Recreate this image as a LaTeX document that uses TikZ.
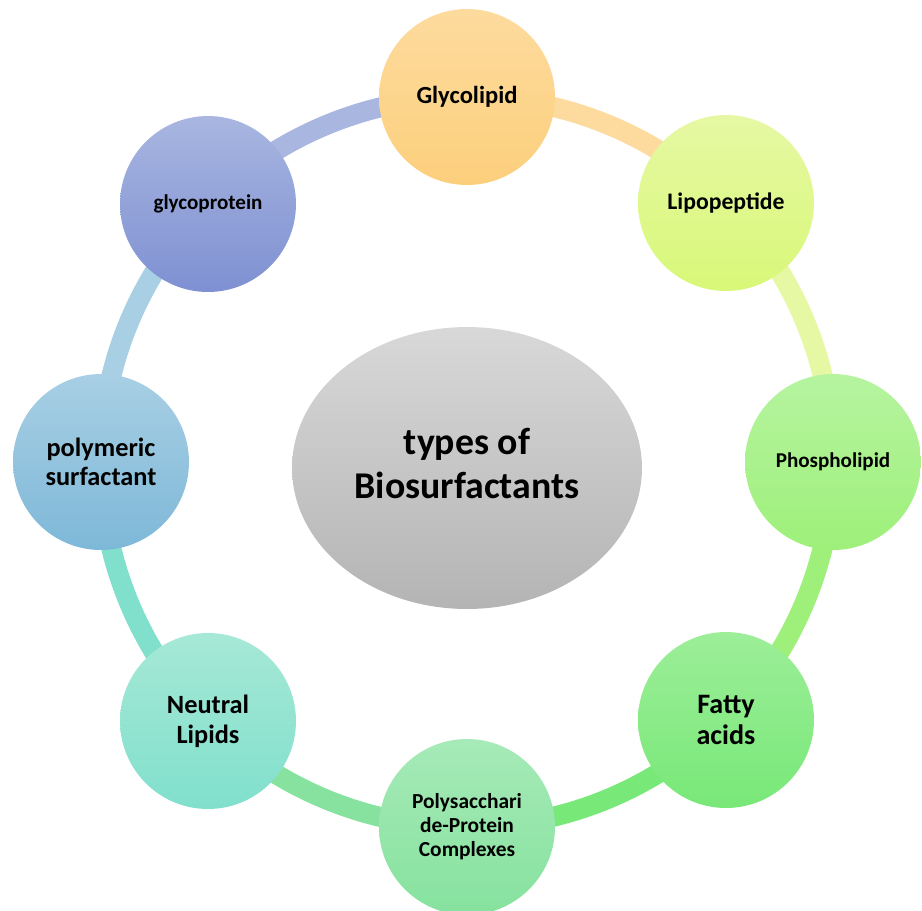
\documentclass[tikz,border=0pt]{standalone}
\usepackage{fontspec}
\setmainfont{Carlito}
\usetikzlibrary{shapes.geometric,backgrounds}

\definecolor{glycolipidT}{HTML}{FDDB9E}
\definecolor{glycolipidB}{HTML}{FCCF7C}
\definecolor{lipopeptideT}{HTML}{E6F8A4}
\definecolor{lipopeptideB}{HTML}{D8F878}
\definecolor{phosphoT}{HTML}{B6F4A0}
\definecolor{phosphoB}{HTML}{9EF07A}
\definecolor{fattyT}{HTML}{9CEE98}
\definecolor{fattyB}{HTML}{78E878}
\definecolor{polysaccT}{HTML}{A6EAB8}
\definecolor{polysaccB}{HTML}{86E29E}
\definecolor{neutralT}{HTML}{A6E8D6}
\definecolor{neutralB}{HTML}{80E0CC}
\definecolor{polymericT}{HTML}{A8CFE4}
\definecolor{polymericB}{HTML}{7EB8D8}
\definecolor{glycoproteinT}{HTML}{A8B6E0}
\definecolor{glycoproteinB}{HTML}{7E90D2}
\definecolor{centerT}{HTML}{D8D8D8}
\definecolor{centerB}{HTML}{B4B4B4}

\begin{document}
\begin{tikzpicture}[x=0.02cm,y=-0.02cm,
  type node/.style={circle,minimum size=3.52cm,inner sep=0pt,align=center,font=\bfseries},
  ring/.style={line width=0.4cm,bend left=22.5,looseness=0.885}]

  \useasboundingbox (0,0) rectangle (922,910);

  \node[ellipse,minimum width=7cm,minimum height=5.64cm,inner sep=0pt,
    top color=centerT,bottom color=centerB,
    font=\bfseries\fontsize{21.5}{25}\selectfont] (center) at (467,468)
    {\raisebox{4pt}{\begin{tabular}{@{}c@{}}types of\\Biosurfactants\end{tabular}}};

  \node[type node,top color=glycolipidT,bottom color=glycolipidB,
    font=\bfseries\fontsize{14}{15}\selectfont] (glycolipid) at (467,97) {Glycolipid};
  \node[type node,top color=lipopeptideT,bottom color=lipopeptideB,
    font=\bfseries\fontsize{13.5}{15}\selectfont] (lipopeptide) at (726,203) {Lipopeptide};
  \node[type node,top color=phosphoT,bottom color=phosphoB,
    font=\bfseries\fontsize{12}{14}\selectfont] (phospholipid) at (833,462) {Phospholipid};
  \node[type node,top color=fattyT,bottom color=fattyB,
    font=\bfseries\fontsize{16}{17.6}\selectfont] (fatty) at (726,720) {Fatty\\acids};
  \node[type node,top color=polysaccT,bottom color=polysaccB,
    font=\bfseries\fontsize{12.2}{13.6}\selectfont] (polysacc) at (467,827) {Polysacchari\\de-Protein\\Complexes};
  \node[type node,top color=neutralT,bottom color=neutralB,
    font=\bfseries\fontsize{15}{17}\selectfont] (neutral) at (208,721) {Neutral\\Lipids};
  \node[type node,top color=polymericT,bottom color=polymericB,
    font=\bfseries\fontsize{15}{16.5}\selectfont] (polymeric) at (101,462) {polymeric\\surfactant};
  \node[type node,top color=glycoproteinT,bottom color=glycoproteinB,
    font=\bfseries\fontsize{12}{14}\selectfont] (glycoprotein) at (208,204) {glycoprotein};

  \begin{scope}[on background layer]
    \draw[ring,draw=glycolipidT] (glycolipid.center) to (lipopeptide.center);
    \draw[ring,draw=lipopeptideT] (lipopeptide.center) to (phospholipid.center);
    \draw[ring,draw=phosphoB] (phospholipid.center) to (fatty.center);
    \draw[ring,draw=fattyB] (fatty.center) to (polysacc.center);
    \draw[ring,draw=polysaccB] (polysacc.center) to (neutral.center);
    \draw[ring,draw=neutralB] (neutral.center) to (polymeric.center);
    \draw[ring,draw=polymericT] (polymeric.center) to (glycoprotein.center);
    \draw[ring,draw=glycoproteinT] (glycoprotein.center) to (glycolipid.center);
  \end{scope}
\end{tikzpicture}
\end{document}
